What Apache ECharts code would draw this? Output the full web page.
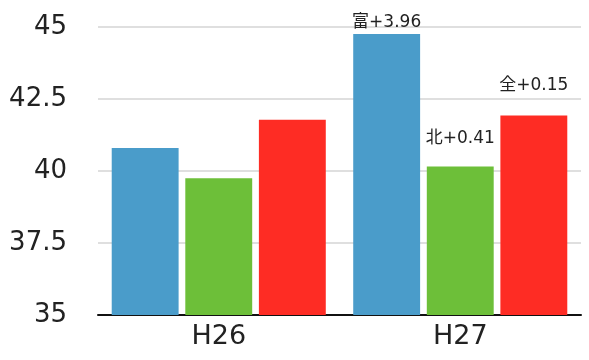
<!DOCTYPE html>
<html>
<head>
<meta charset="utf-8">
<script src="https://cdn.jsdelivr.net/npm/echarts@6/dist/echarts.min.js"></script>
<style>
  html, body { margin: 0; padding: 0; background: #fff; }
  #chart { width: 589px; height: 360px; }
</style>
</head>
<body>
<div id="chart"></div>
<script>
// Fiscal years on the category axis
const years = ['H26', 'H27'];

// Averages for the three regions, per year
const valuesFu  = [40.80, 44.76];
const valuesKita = [39.75, 40.16];
const valuesZen = [41.78, 41.93];

// Year-over-year change shown above the H27 bars
const labelsFu   = ['', '富+3.96'];
const labelsKita = ['', '北+0.41'];
const labelsZen  = ['', '全+0.15'];

// Value axis range and step
const yMin = 35, yMax = 45, yStep = 2.5;

const FONT = '"DejaVu Sans", "Noto Sans CJK JP", sans-serif';

function makeSeries(values, labels, color, dist) {
  return {
    type: 'bar',
    barWidth: '27.7%',
    barGap: '10%',
    itemStyle: { color: color },
    data: values.map((v, i) => ({
      value: v,
      label: {
        show: labels[i] !== '',
        position: 'top',
        distance: dist,
        formatter: labels[i],
        color: '#222',
        fontSize: 17,
        fontFamily: FONT
      }
    }))
  };
}

const chart = echarts.init(document.getElementById('chart'));
chart.setOption({
  animation: false,
  grid: { left: 98, right: 8, top: 27, bottom: 45 },
  xAxis: {
    type: 'category',
    data: years,
    axisLine: { lineStyle: { color: '#111', width: 2 } },
    axisTick: { show: false },
    axisLabel: { color: '#222', fontSize: 27, fontFamily: FONT, margin: 8 }
  },
  yAxis: {
    type: 'value',
    min: yMin,
    max: yMax,
    interval: yStep,
    axisLine: { show: false },
    axisTick: { show: false },
    splitLine: { lineStyle: { color: '#d4d4d4', width: 1.5 } },
    axisLabel: { color: '#222', fontSize: 26, fontFamily: FONT, margin: 31 }
  },
  series: [
    makeSeries(valuesFu, labelsFu, '#4a9cca', 3),
    makeSeries(valuesKita, labelsKita, '#6dbf39', 19),
    makeSeries(valuesZen, labelsZen, '#fe2c24', 21)
  ]
});
</script>
</body>
</html>
